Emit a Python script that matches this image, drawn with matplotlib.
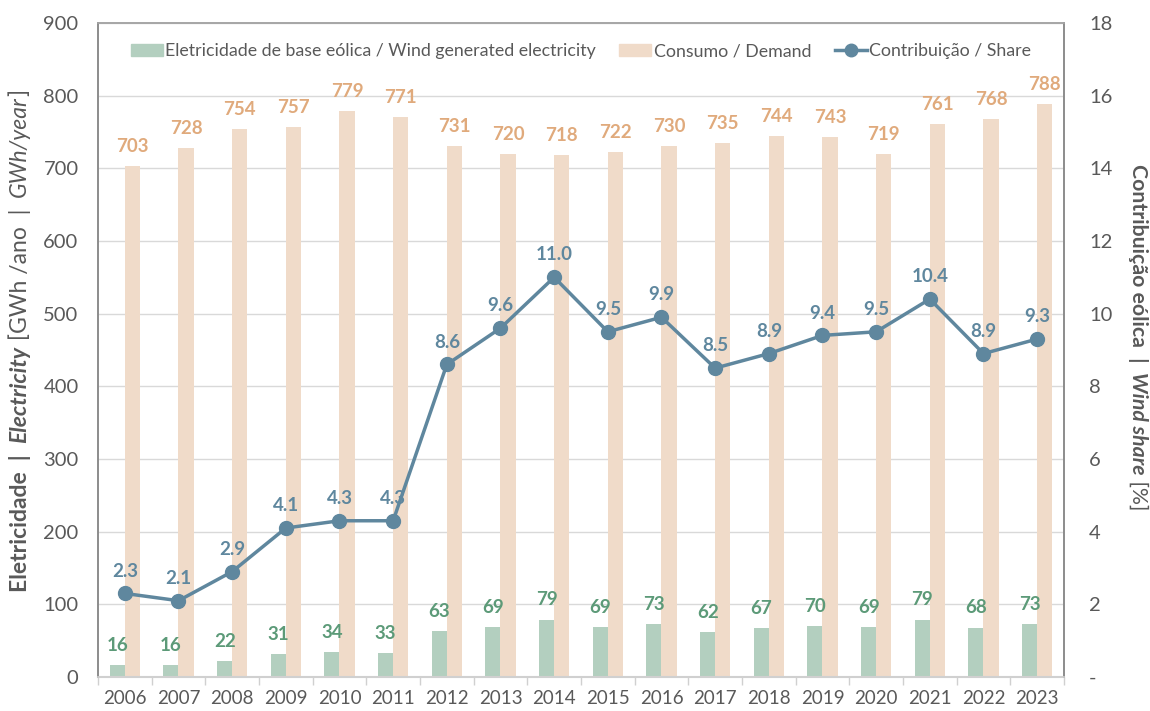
import matplotlib
matplotlib.use("Agg")
import matplotlib.pyplot as plt
import numpy as np
from matplotlib.patches import Patch
from matplotlib.lines import Line2D

years = ["2006", "2007", "2008", "2009", "2010", "2011", "2012", "2013", "2014",
         "2015", "2016", "2017", "2018", "2019", "2020", "2021", "2022", "2023"]
wind = [16, 16, 22, 31, 34, 33, 63, 69, 79, 69, 73, 62, 67, 70, 69, 79, 68, 73]
demand = [703, 728, 754, 757, 779, 771, 731, 720, 718, 722, 730, 735, 744, 743, 719, 761, 768, 788]
share = [2.3, 2.1, 2.9, 4.1, 4.3, 4.3, 8.6, 9.6, 11.0, 9.5, 9.9, 8.5, 8.9, 9.4, 9.5, 10.4, 8.9, 9.3]
left_ticks = [0, 100, 200, 300, 400, 500, 600, 700, 800, 900]
right_ticks = [0, 2, 4, 6, 8, 10, 12, 14, 16, 18]
right_labels = ["-", "2", "4", "6", "8", "10", "12", "14", "16", "18"]

plt.rcParams['font.family'] = ['Lato', 'DejaVu Sans']

C_GREEN = "#b3cfbf"
C_PEACH = "#f0dbc9"
C_LINE = "#5f879e"
T_GREEN = "#5c9a78"
T_PEACH = "#e0aa7c"
T_LINE = "#5f879e"
TXT = "#595959"

fig = plt.figure(figsize=(11.5, 7.11), dpi=100)
ax = fig.add_axes([0.0852, 0.0478, 0.84, 0.92])
ax2 = ax.twinx()

x = np.arange(len(years))
w = 0.28
ax.bar(x - w / 2, wind, w, color=C_GREEN, zorder=2)
ax.bar(x + w / 2, demand, w, color=C_PEACH, zorder=2)

for xi, v in zip(x, wind):
    ax.annotate(f"{v}", (xi - w / 2, v), xytext=(0, 8), textcoords="offset points",
                ha="center", va="bottom", color=T_GREEN, fontsize=13.5, fontweight="bold")
for xi, v in zip(x, demand):
    ax.annotate(f"{v}", (xi + w / 2, v), xytext=(0, 8), textcoords="offset points",
                ha="center", va="bottom", color=T_PEACH, fontsize=13.5, fontweight="bold")

ax2.plot(x, share, color=C_LINE, lw=2.5, marker="o", ms=10, zorder=5)
for xi, v in zip(x, share):
    ax2.annotate(f"{v:.1f}", (xi, v), xytext=(0, 10), textcoords="offset points",
                 ha="center", va="bottom", color=T_LINE, fontsize=13.5, fontweight="bold")

ax.set_xlim(-0.5, len(years) - 0.5)
ax.set_ylim(0, 900)
ax2.set_ylim(0, 18)
ax.set_yticks(left_ticks)
ax.set_yticklabels([str(t) for t in left_ticks])
ax2.set_yticks(right_ticks)
ax2.set_yticklabels(right_labels)
ax.set_xticks(x)
ax.set_xticklabels(years)
ax.set_xticks(np.arange(len(years) + 1) - 0.5, minor=True)

ax.grid(axis="y", color="#d9d9d9", lw=1, zorder=0)
ax.set_axisbelow(True)
ax.tick_params(axis="y", length=0, labelsize=14.5, labelcolor=TXT, pad=14)
ax2.tick_params(axis="y", length=0, labelsize=14.5, labelcolor=TXT, pad=18)
ax.tick_params(axis="x", which="major", length=0, labelsize=13.5, labelcolor=TXT, pad=9)
ax.tick_params(axis="x", which="minor", length=6, color="#d0d0d0", width=1)

for a in (ax, ax2):
    a.spines["top"].set_color("#a6a6a6")
    a.spines["bottom"].set_color("#d0d0d0")
    a.spines["left"].set_color("#8c8c8c")
    a.spines["right"].set_color("#8c8c8c")
    for s in a.spines.values():
        s.set_linewidth(1.2)
ax.spines["bottom"].set_linewidth(1.5)

handles = [Patch(color=C_GREEN), Patch(color=C_PEACH),
           Line2D([0], [0], color=C_LINE, lw=2.5, marker="o", ms=9)]
labels = ["Eletricidade de base eólica / Wind generated electricity",
          "Consumo / Demand", "Contribuição / Share"]
ax2.legend(handles, labels, loc="upper center", bbox_to_anchor=(0.5, 0.993), ncol=3,
           frameon=False, fontsize=12.8, handlelength=1.8, handleheight=0.7,
           handletextpad=0.15, columnspacing=1.3, labelcolor=TXT)


def chain(first_xy, parts, rotation, forward_va, anchor, size):
    last = None
    for txt, wt, st in parts:
        kw = dict(rotation=rotation, color=TXT, fontsize=size, fontweight=wt, fontstyle=st,
                  ha="center", va=forward_va)
        if last is None:
            last = fig.text(first_xy[0], first_xy[1], txt, **kw)
        else:
            last = ax.annotate(txt, xy=anchor, xycoords=last, annotation_clip=False, **kw)


parts_left = [("Eletricidade  |  ", "bold", "normal"), ("Electricity", "bold", "italic"),
              (" [GWh /ano  |  ", "normal", "normal"), ("GWh/year", "normal", "italic"),
              ("]", "normal", "normal")]
chain((0.017, 0.168), parts_left, 90, "bottom", (0.5, 1), 16.5)

parts_right = [("Contribuição eólica  |  ", "bold", "normal"), ("Wind share", "bold", "italic"),
               (" [%]", "normal", "normal")]
chain((0.99, 0.77), parts_right, 270, "top", (0.5, 0), 15.3)

fig.savefig("out.png", dpi=100)
